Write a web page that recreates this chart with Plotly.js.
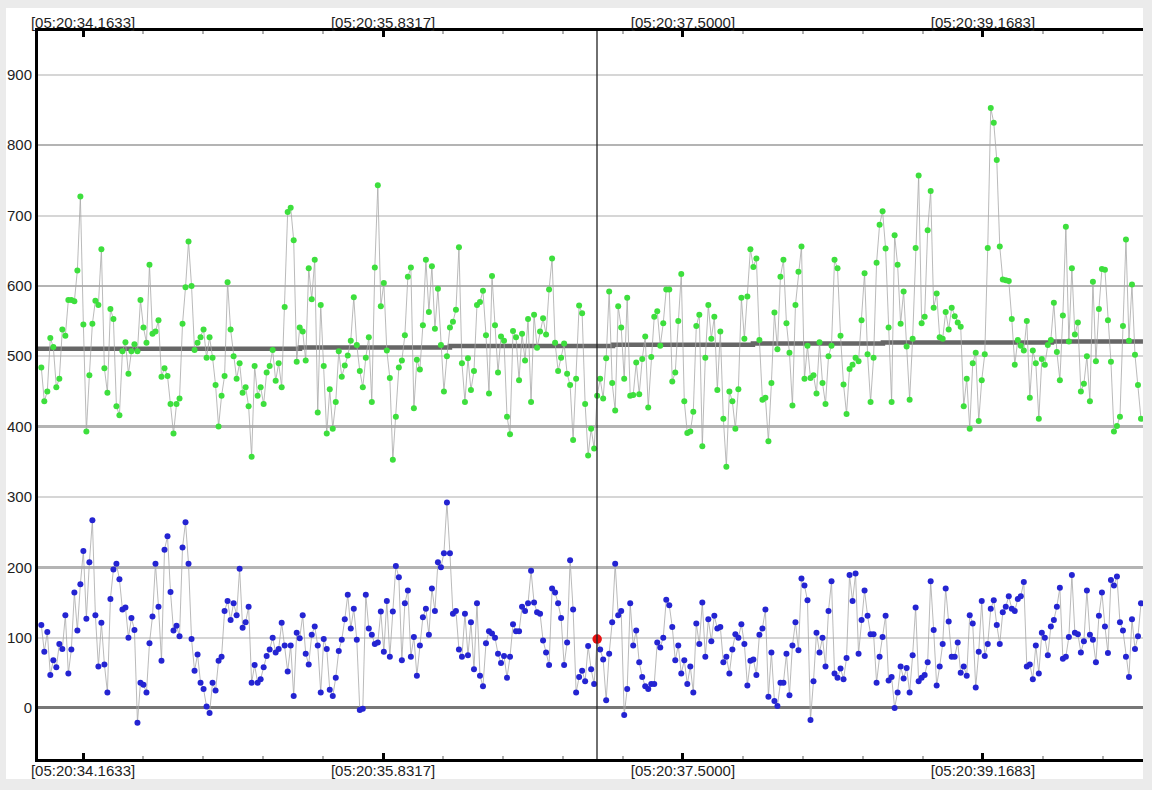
<!DOCTYPE html>
<html>
<head>
<meta charset="utf-8">
<script src="https://cdn.plot.ly/plotly-3.0.1.min.js"></script>
<style>
  html, body { margin: 0; padding: 0; background: #ebebeb; width: 1152px; height: 790px; overflow: hidden; }
  #chart { position: absolute; left: 6px; top: 8px; width: 1137px; height: 771px; background: #fff; }
</style>
</head>
<body>
<div id="chart"></div>
<script>
// ---- data ----
// time span covered by the samples (seconds within 05:20:xx)
const firstSampleTime = 33.9314;
const lastSampleTime = 40.0471;
const xRange = [33.9130, 40.0583];
const yRange = [-72.5, 962.3];

const greenValues = [
  484,436,450,526,513,456,468,538,529,580,580,578,622,727,545,393,473,546,579,573,
  652,483,448,567,553,429,416,507,520,475,507,517,507,580,541,519,630,532,535,551,
  471,483,472,432,390,432,440,546,598,663,600,509,519,527,538,498,527,498,459,400,
  444,472,605,538,500,468,490,448,456,429,357,486,444,456,432,477,486,509,465,490,
  456,570,705,711,665,492,541,535,494,625,
  581,637,420,573,486,390,453,397,435,507,471,487,501,522,584,516,479,456,498,527,
  435,626,743,571,604,508,469,353,414,484,494,530,613,626,426,495,481,544,637,563,
  628,539,596,516,450,500,541,549,566,655,490,435,497,452,479,573,577,593,530,447,
  614,544,477,528,522,414,389,536,527,466,532,494,553,435,559,512,535,554,531,595,
  639,519,479,498,518,475,459,381,468,572,
  561,432,359,397,369,444,468,440,497,592,462,423,571,541,468,583,444,445,491,446,
  496,528,427,499,556,564,515,547,595,595,464,477,550,617,436,391,393,421,543,559,
  372,498,573,525,556,452,535,411,343,450,436,397,453,583,525,585,652,627,639,523,
  438,441,379,462,562,510,613,637,547,505,430,573,620,656,468,515,469,473,447,520,
  462,432,500,515,637,625,529,460,418,482,
  488,498,493,551,618,503,435,498,633,687,706,653,541,435,672,630,546,592,514,438,
  525,654,757,547,556,679,735,569,589,527,525,563,538,569,557,548,542,429,468,397,
  490,505,408,466,503,654,853,832,779,656,609,608,607,553,488,523,515,508,550,441,
  508,490,411,496,488,516,523,576,506,466,558,684,521,625,531,548,450,461,500,436,
  606,493,567,624,623,551,492,393,401,414,543,666,522,602,502,459,411
];

const blueValues = [
  118,80,108,47,68,58,91,84,132,49,83,164,110,176,223,127,207,267,132,59,
  121,62,22,155,197,205,183,140,143,100,128,111,-21,36,33,22,92,130,205,144,
  67,225,244,165,110,117,102,228,264,205,98,53,76,36,27,2,-7,36,25,67,
  73,138,152,125,149,132,198,114,122,144,36,61,36,41,58,74,83,100,79,84,
  121,89,52,89,17,107,99,132,77,62,
  104,116,89,22,98,84,26,17,43,81,97,126,161,113,141,97,-3,-1,161,113,
  104,91,93,137,80,152,73,137,202,186,68,149,167,73,101,46,89,129,141,104,
  170,138,207,200,220,292,220,134,138,83,73,134,75,122,55,149,46,31,92,109,
  106,100,77,64,74,43,73,119,109,109,144,138,149,195,150,136,134,96,79,61,
  170,164,149,128,61,93,210,140,22,44,
  53,38,88,55,34,98,83,69,11,77,122,205,132,138,-10,27,149,89,110,65,
  44,31,27,34,34,93,86,100,154,146,115,68,89,49,68,34,59,22,120,91,
  150,73,126,95,131,113,115,65,73,49,83,105,100,119,91,32,67,69,47,104,
  113,140,16,79,10,3,36,36,77,18,89,122,82,184,174,153,-17,38,107,79,
  100,59,138,180,49,43,56,41,71,189,
  152,191,77,125,167,131,105,105,36,73,101,131,39,44,0,22,59,42,57,22,
  75,143,38,43,47,65,180,111,32,59,91,170,123,73,73,93,50,59,46,132,
  120,29,80,152,74,91,141,153,118,91,136,144,159,141,138,155,159,179,59,62,
  41,89,49,107,100,75,116,125,144,171,70,73,101,189,107,105,79,95,167,104,
  97,65,131,164,116,78,182,174,187,122,110,73,44,126,84,102,149
];

// running mean (drawn as a stepped line)
const meanTimes  = [33.913, 35.370, 36.204, 37.111, 37.889, 38.612, 39.552, 40.058];
const meanValues = [510.5, 512.5, 514.5, 516.5, 518, 519.5, 521, 521];

// cursor
const cursorTime = 37.0218;

// axis ticks
const xTickVals = [34.1633, 35.8317, 37.5000, 39.1683];
const xTickText = ['[05:20:34.1633]', '[05:20:35.8317]', '[05:20:37.5000]', '[05:20:39.1683]'];
const xMinorStep = 0.33368;
const yTickVals = [0, 100, 200, 300, 400, 500, 600, 700, 800, 900];
const yTickText = ['0', '100', '200', '300', '400', '500', '600', '700', '800', '900'];

// ---- build ----
function sampleTimes(n) {
  const out = [];
  for (let i = 0; i < n; i++) out.push(firstSampleTime + i * (lastSampleTime - firstSampleTime) / (n - 1));
  return out;
}
const greenX = sampleTimes(greenValues.length);
const blueX = sampleTimes(blueValues.length);

let sel = 0;
for (let i = 0; i < blueX.length; i++) {
  if (Math.abs(blueX[i] - cursorTime) < Math.abs(blueX[sel] - cursorTime)) sel = i;
}

const FONT = 'Liberation Sans, Arial, Helvetica, sans-serif';
const TICKFONT = { family: FONT, size: 15, color: '#1e1e1e' };

const traces = [
  { x: [xRange[0]], y: [yRange[0]], xaxis: 'x2', yaxis: 'y2', type: 'scatter',
    mode: 'markers', marker: { opacity: 0 }, hoverinfo: 'skip' },
  { x: meanTimes, y: meanValues, type: 'scatter', mode: 'lines',
    line: { color: '#666666', width: 4.5, shape: 'hv' }, hoverinfo: 'skip' },
  { x: greenX, y: greenValues, type: 'scatter', mode: 'lines+markers',
    line: { color: '#a8a8a8', width: 0.8 },
    marker: { color: '#3ddf3d', size: 6 } },
  { x: blueX, y: blueValues, type: 'scatter', mode: 'lines+markers',
    line: { color: '#a8a8a8', width: 0.8 },
    marker: { color: '#2424d2', size: 6 } },
  { x: [blueX[sel]], y: [blueValues[sel]], type: 'scatter', mode: 'markers',
    marker: { color: '#e81010', size: 9.5 } }
];

const minorTicks = { ticks: 'inside', ticklen: 3, tickwidth: 1.5, tickcolor: '#b0b0b0',
  tickmode: 'linear', tick0: xTickVals[0], dtick: xMinorStep, showgrid: false };

const layout = {
  width: 1137, height: 771,
  margin: { l: 32, r: 0, t: 23, b: 20, pad: 0 },
  paper_bgcolor: '#ffffff', plot_bgcolor: '#ffffff',
  showlegend: false,
  font: { family: FONT, size: 15, color: '#1e1e1e' },
  xaxis: {
    range: xRange, showgrid: false, zeroline: false,
    showline: true, linecolor: '#000', linewidth: 3, mirror: true,
    tickmode: 'array', tickvals: xTickVals, ticktext: xTickText,
    ticks: 'inside', ticklen: 6, tickwidth: 3, tickcolor: '#000',
    tickfont: TICKFONT, ticklabelstandoff: -4,
    minor: minorTicks
  },
  xaxis2: {
    range: xRange, overlaying: 'x', side: 'top', anchor: 'y',
    showgrid: false, zeroline: false, showline: false,
    tickmode: 'array', tickvals: xTickVals, ticktext: xTickText,
    ticks: 'inside', ticklen: 6, tickwidth: 3, tickcolor: '#000',
    tickfont: TICKFONT, ticklabelstandoff: -1,
    minor: minorTicks
  },
  yaxis: {
    range: yRange, tickmode: 'array', tickvals: yTickVals, ticktext: yTickText,
    showgrid: true, gridcolor: '#d6d6d6', gridwidth: 2,
    zeroline: true, zerolinecolor: '#777777', zerolinewidth: 3,
    showline: true, linecolor: '#000', linewidth: 3,
    ticks: '', tickfont: TICKFONT
  },
  yaxis2: {
    range: yRange, overlaying: 'y', side: 'left', anchor: 'x',
    tickmode: 'linear', tick0: 0, dtick: 200,
    showgrid: true, gridcolor: '#b4b4b4', gridwidth: 2.5,
    zeroline: false, showline: false, showticklabels: false, ticks: ''
  },
  shapes: [
    { type: 'line', xref: 'x', yref: 'paper', x0: cursorTime, x1: cursorTime, y0: 0, y1: 1,
      line: { color: '#222', width: 1.3 }, layer: 'above' }
  ]
};

Plotly.newPlot('chart', traces, layout, { displayModeBar: false, staticPlot: true });
</script>
</body>
</html>
